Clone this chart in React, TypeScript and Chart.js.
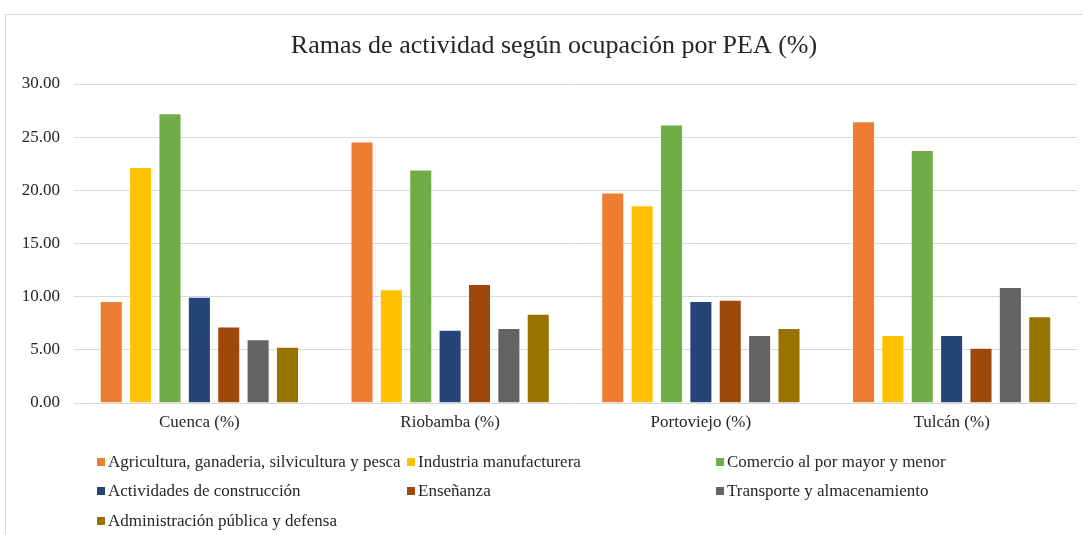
import React, { useEffect, useRef } from "react";
import { Chart, registerables } from "chart.js";

Chart.register(...registerables);

const title = "Ramas de actividad según ocupación por PEA (%)";
const categories = ["Cuenca (%)", "Riobamba (%)", "Portoviejo (%)", "Tulcán (%)"];

const seriesNames = [
  "Agricultura, ganaderia, silvicultura y pesca",
  "Industria manufacturera",
  "Comercio al por mayor y menor",
  "Actividades de construcción",
  "Enseñanza",
  "Transporte y almacenamiento",
  "Administración pública y defensa",
];

const agricultura = [9.6, 24.6, 19.8, 26.5];
const industria = [22.2, 10.7, 18.6, 6.4];
const comercio = [27.25, 21.95, 26.2, 23.8];
const construccion = [10.0, 6.9, 9.6, 6.4];
const ensenanza = [7.2, 11.2, 9.7, 5.2];
const transporte = [6.0, 7.05, 6.4, 10.9];
const administracion = [5.3, 8.4, 7.05, 8.15];

const seriesColors = ["#ED7D31", "#FFC000", "#70AD47", "#264478", "#9E480E", "#636363", "#997300"];

const yMin = 0;
const yMax = 30;
const yStep = 5;

const FONT = "'Liberation Serif', 'Times New Roman', serif";
const TEXT = "#262626";

const decorPlugin = {
  id: "decor",
  afterDraw(chart: any) {
    const ctx = chart.ctx as CanvasRenderingContext2D;
    ctx.save();
    // outer border
    ctx.strokeStyle = "#d9d9d9";
    ctx.lineWidth = 1;
    ctx.strokeRect(5.5, 14.5, 1200, 700);
    // title
    ctx.fillStyle = TEXT;
    ctx.font = `26px ${FONT}`;
    ctx.textAlign = "center";
    ctx.textBaseline = "middle";
    ctx.fillText(title, 554, 46);
    // legend
    const cols = [97, 407, 716];
    const rows = [462, 491, 521];
    ctx.font = `17px ${FONT}`;
    ctx.textAlign = "left";
    chart.data.datasets.forEach((ds: any, i: number) => {
      const cx = cols[i % 3];
      const cy = rows[Math.floor(i / 3)];
      ctx.fillStyle = ds.backgroundColor;
      ctx.fillRect(cx, cy - 4, 8, 8);
      ctx.fillStyle = TEXT;
      ctx.fillText(ds.label, cx + 11, cy + 1);
    });
    ctx.restore();
  },
};

export default function App() {
  const ref = useRef<HTMLCanvasElement | null>(null);
  useEffect(() => {
    if (!ref.current) return;
    const values = [agricultura, industria, comercio, construccion, ensenanza, transporte, administracion];
    const chart = new Chart(ref.current, {
      type: "bar",
      data: {
        labels: categories,
        datasets: values.map((v, i) => ({
          label: seriesNames[i],
          data: v,
          backgroundColor: seriesColors[i],
          borderColor: "rgba(255,255,255,0.35)",
          borderWidth: 1,
          categoryPercentage: 0.82,
          barPercentage: 0.785,
        })),
      },
      options: {
        responsive: false,
        animation: false,
        layout: { padding: { top: 84, right: 6, bottom: 102, left: 0 } },
        plugins: {
          legend: { display: false },
          title: { display: false },
          tooltip: { enabled: false },
        },
        scales: {
          x: {
            grid: { display: false, drawTicks: false },
            border: { display: false },
            ticks: { color: TEXT, font: { family: FONT, size: 17 }, padding: 9 },
            afterFit: (s: any) => {
              s.height = 30;
            },
          },
          y: {
            min: yMin,
            max: yMax,
            grid: { color: "#d9d9d9", lineWidth: 1, drawTicks: false },
            border: { display: false },
            ticks: {
              stepSize: yStep,
              color: TEXT,
              font: { family: FONT, size: 17 },
              padding: 14,
              callback: (v: any) => Number(v).toFixed(2),
            },
            afterFit: (s: any) => {
              s.width = 74;
            },
          },
        },
      },
      plugins: [decorPlugin],
    });
    return () => chart.destroy();
  }, []);
  return (
    <div style={{ position: "absolute", left: 0, top: 0, width: 1083, height: 535, background: "#fff" }}>
      <canvas ref={ref} width={1083} height={535} style={{ display: "block", width: 1083, height: 535 }} />
    </div>
  );
}
